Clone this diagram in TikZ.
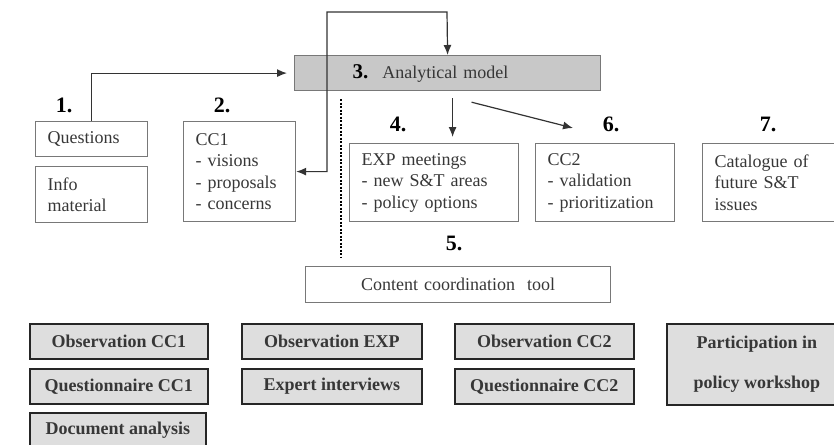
\documentclass[tikz,border=0pt]{standalone}
\usepackage{fontspec}
\setmainfont{Liberation Serif}
\usetikzlibrary{arrows.meta,calc}

\definecolor{modelgray}{RGB}{200,200,200}
\definecolor{srcgray}{RGB}{222,222,222}
\definecolor{boxline}{RGB}{120,120,120}
\definecolor{txtgray}{RGB}{55,55,55}

\tikzset{every picture/.style={line width=0.75pt}}
\tikzset{
  stepbox/.style={draw=boxline, line width=1.2pt, anchor=north west, align=left,
    inner xsep=12pt, inner ysep=0pt, text=txtgray, font=\fontsize{18}{21.5}\selectfont},
  srcbox/.style={draw=black!85, fill=srcgray, line width=1.6pt, anchor=north west,
    minimum width=178pt, minimum height=35pt, inner sep=0pt, text=txtgray,
    font=\fontsize{18}{20}\selectfont\bfseries},
  numlbl/.style={inner sep=0pt, font=\fontsize{22}{22}\selectfont\bfseries},
  arr/.style={-{Latex[length=10pt,width=8pt]}, line width=1.2pt, draw=black!80},
}

\begin{document}
\begin{tikzpicture}[x=1pt,y=1pt,yscale=-1,xscale=1]
    \useasboundingbox (0,0) rectangle (834,444);
    \clip (0,0) rectangle (834,444);

    %Shape: Rectangle [model]
    \node[draw=boxline, fill=modelgray, line width=1.2pt, anchor=north west, minimum height=35pt,
      text width=190pt, inner xsep=58pt, inner ysep=0pt, align=left, text=txtgray,
      font=\fontsize{18}{21.5}\selectfont] (model) at (294,55)
      {{\color{black}\fontsize{21}{21}\selectfont\bfseries 3.}\hspace{14pt}Analytical model};

    %Shape: Rectangle [steps]
    \node[stepbox, text width=88pt, minimum height=35pt] (quest) at (35,121) {Questions};
    \node[stepbox, text width=88pt, minimum height=56pt] (info) at (35,166) {Info\\material};
    \node[stepbox, text width=88pt, minimum height=100pt] (cc1) at (183,121) {CC1\\- visions\\- proposals\\- concerns};
    \node[stepbox, text width=145pt, minimum height=78pt] (exp) at (349,143) {EXP meetings\\- new S\&T areas\\- policy options};
    \node[stepbox, text width=115pt, minimum height=78pt] (cc2) at (535,143) {CC2\\- validation\\- prioritization};
    \node[stepbox, text width=120pt, minimum height=78pt] (cat) at (702,143) {Catalogue of\\future S\&T\\issues};
    \node[stepbox, align=center, text width=281pt, minimum height=36pt] (tool) at (305,266) {Content coordination\ \ tool};

    % Text Node
    \node[numlbl] (n1) at (64,105) {1.};
    % Text Node
    \node[numlbl] (n2) at (222,105) {2.};
    % Text Node
    \node[numlbl] (n4) at (398,124) {4.};
    % Text Node
    \node[numlbl] (n5) at (454,243) {5.};
    % Text Node
    \node[numlbl] (n6) at (611,124) {6.};
    % Text Node
    \node[numlbl] (n7) at (768,124) {7.};

    %Shape: Rectangle [sources]
    \node[srcbox] (obscc1) at (29,323) {Observation CC1};
    \node[srcbox] (quescc1) at (29,368) {Questionnaire CC1};
    \node[srcbox, minimum width=176pt] (docana) at (29,412) {Document analysis};
    \node[srcbox, minimum width=180pt] (obsexp) at (241,323) {Observation EXP};
    \node[srcbox, minimum width=180pt] (expint) at (241,368) {Expert interviews};
    \node[srcbox, minimum width=179pt] (obscc2) at (454,323) {Observation CC2};
    \node[srcbox, minimum width=179pt] (quescc2) at (454,368) {Questionnaire CC2};
    \node[srcbox, minimum width=180pt, minimum height=81pt, align=center,
      font=\fontsize{18}{40}\selectfont\bfseries] (polws) at (666,323) {Participation in\\policy workshop};

    %Straight Lines [connectors]
    \coordinate (looptl) at (327,12);
    \coordinate (looptr) at (447,12);
    \draw[arr, {Latex[length=10pt,width=8pt]}-{Latex[length=10pt,width=8pt]}] (cc1.east) -| (looptl) -- (looptr) -- (model.north);
    \draw[arr, shorten >=7pt] (quest.north) |- (model.west);
    \draw[arr, shorten <=7pt, shorten >=6pt] ([xshift=5pt]model.south) -- ([xshift=5pt]model.south |- exp.north);
    \draw[arr] ($(model.south)+(24,11)$) -- ($(cc2.north west)+(38,-15)$);
    \draw[dash pattern=on 2pt off 1.5pt, line width=1.2pt] ($(model.south west)+(47,8)$) -- ($(tool.north west)+(36,-8)$);

\end{tikzpicture}
\end{document}
